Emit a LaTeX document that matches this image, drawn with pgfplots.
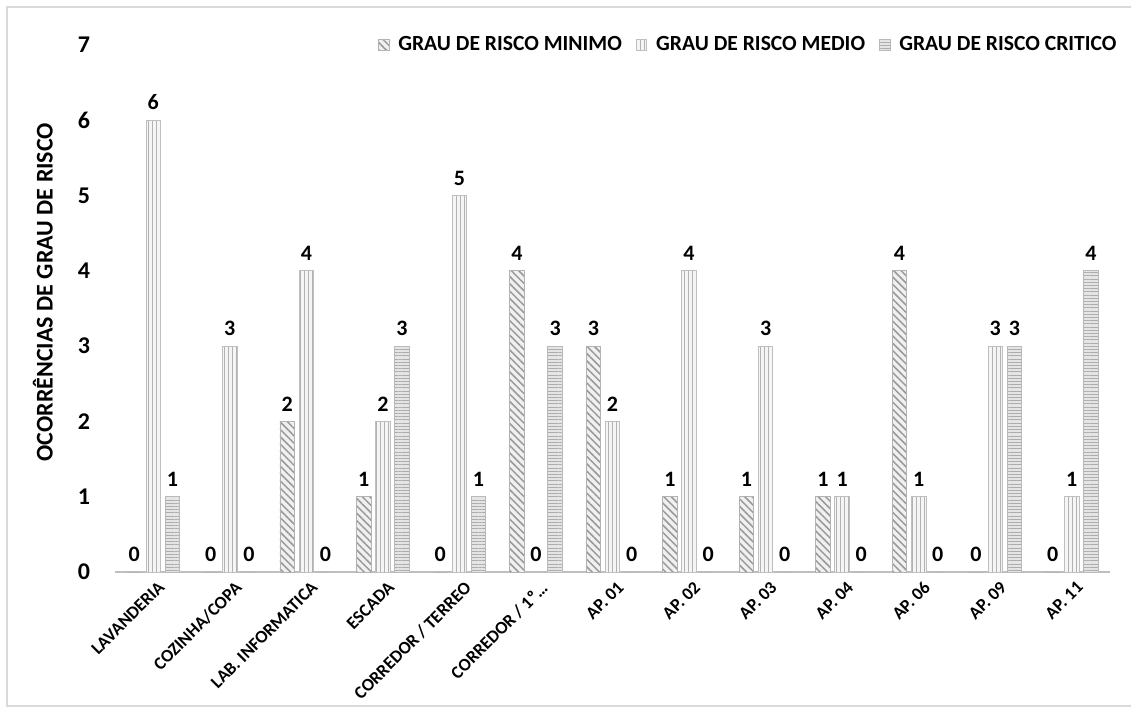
\documentclass[border=0pt]{standalone}
\usepackage{pgfplots}
\pgfplotsset{compat=1.18}
\usepackage{pgfplotstable}
\usetikzlibrary{patterns.meta}
\usepackage{fontspec}
\setmainfont{Carlito}
\definecolor{axisgray}{HTML}{BFBFBF}
\definecolor{framegray}{HTML}{D9D9D9}

\pgfplotstableread{
x minimo medio critico
0 0 6 1
1 0 3 0
2 2 4 0
3 1 2 3
4 0 5 1
5 4 0 3
6 3 2 0
7 1 4 0
8 1 3 0
9 1 1 0
10 4 1 0
11 0 3 3
12 0 1 4
}\datatable

\pgfplotsset{sqleg/.style={legend image code/.code={\path[##1] (0pt,-2.6pt) rectangle (5.2pt,2.6pt);}}}

\begin{document}
\begin{tikzpicture}
\begin{axis}[
  at={(0,0)}, anchor=south west,
  scale only axis, width=497.5pt, height=263.5pt,
  ybar, bar width=0.19,
  xmin=-0.5, xmax=12.5, ymin=0, ymax=7,
  xtick={0,...,12},
  xticklabels={LAVANDERIA, COZINHA/COPA, LAB. INFORMATICA, ESCADA, CORREDOR / TERREO, CORREDOR / 1º…, AP. 01, AP. 02, AP. 03, AP. 04, AP. 06, AP. 09, AP. 11},
  ytick={0,...,7},
  axis x line*=bottom, axis y line*=left,
  y axis line style={draw=none},
  x axis line style={axisgray, line width=1pt},
  major tick length=0pt, tick style={draw=none},
  clip=false,
  /pgf/number format/assume math mode=true,
  yticklabel style={font=\bfseries\fontsize{12}{14}\selectfont, anchor=east, xshift=-9pt},
  xticklabel style={yshift=-2.5pt, xshift=2pt, rotate=45, anchor=north east, font=\bfseries\fontsize{8.9}{10}\selectfont, inner sep=1pt},
  nodes near coords,
  every node near coord/.append style={font=\bfseries\fontsize{11}{13}\selectfont, text=black, inner sep=2pt, yshift=3pt},
  ylabel={OCORRÊNCIAS DE GRAU DE RISCO},
  ylabel style={at={(axis description cs:-0.0724,0.531)}, anchor=center, font=\bfseries\fontsize{12}{14}\selectfont},
  legend style={at={(axis description cs:0.258,1.0)}, anchor=west, draw=none, fill=none,
    font=\bfseries\fontsize{10.8}{12}\selectfont, legend columns=3,
    /tikz/every even column/.append style={column sep=5pt},
    /tikz/every odd column/.append style={column sep=2.5pt}},
]
\addplot[sqleg, bar shift=-0.25, draw=gray!60, fill=gray!12,
  postaction={pattern color=gray!80, pattern={Lines[angle=-45,distance=2.6pt,line width=0.75pt]}}]
  table[x=x, y=minimo] {\datatable};
\addlegendentry{GRAU DE RISCO MINIMO}
\addplot[sqleg, bar shift=0, draw=gray!50, fill=gray!8,
  postaction={pattern color=gray!60, pattern={Lines[angle=90,distance=2pt,line width=0.5pt]}}]
  table[x=x, y=medio] {\datatable};
\addlegendentry{GRAU DE RISCO MEDIO}
\addplot[sqleg, bar shift=0.25, draw=gray!55, fill=gray!20,
  postaction={pattern color=gray!65, pattern={Lines[angle=0,distance=1.6pt,line width=0.5pt]}}]
  table[x=x, y=critico] {\datatable};
\addlegendentry{GRAU DE RISCO CRITICO}
\end{axis}
\draw[framegray, line width=0.8pt] (508pt,282.5pt) -- (-54pt,282.5pt) -- (-54pt,-67pt) -- (508pt,-67pt);
\pgfresetboundingbox
\path[use as bounding box] (-57.5pt,-68pt) rectangle (508pt,286pt);
\end{tikzpicture}
\end{document}
